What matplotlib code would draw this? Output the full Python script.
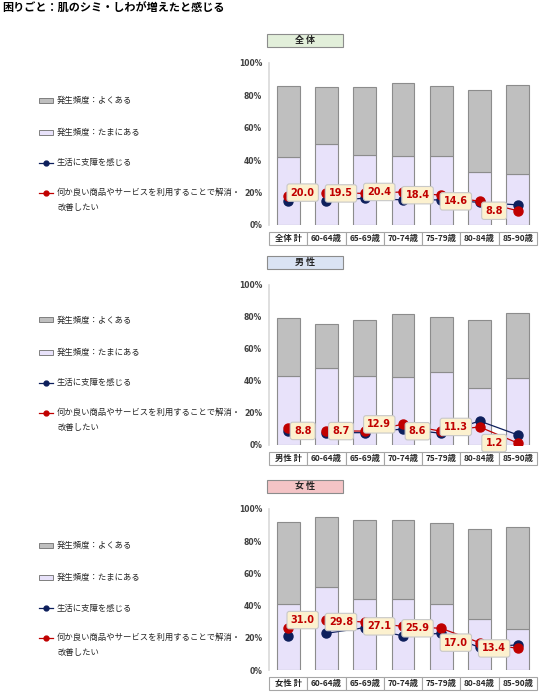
import matplotlib
matplotlib.use('Agg')
import matplotlib.pyplot as plt
from matplotlib.patches import Rectangle
from matplotlib.lines import Line2D
import matplotlib.transforms as mtransforms

plt.rcParams['font.family'] = ['Noto Sans CJK JP', 'DejaVu Sans']

# data
ages = ['60-64歳', '65-69歳', '70-74歳', '75-79歳', '80-84歳', '85-90歳']
panel_titles = ['全 体', '男 性', '女 性']
total_names = ['全体 計', '男性 計', '女性 計']

# 積み上げ上端（よくある + たまにある） / たまにある
all_total = [85.6, 85.2, 85.2, 87.6, 85.6, 83.1, 86.4]
all_sometimes = [41.9, 49.9, 43.3, 42.9, 42.5, 33.0, 31.3]
all_hinder = [15.1, 15.1, 16.5, 15.5, 15.5, 14.0, 12.4]
all_improve = [18.1, 20.0, 19.5, 20.4, 18.4, 14.6, 8.8]

male_total = [79.2, 75.8, 77.9, 81.9, 80.2, 78.3, 82.7]
male_sometimes = [43.3, 48.3, 42.9, 42.3, 45.8, 35.4, 42.1]
male_hinder = [8.8, 7.7, 7.7, 10.0, 7.3, 15.0, 6.3]
male_improve = [10.4, 8.8, 8.7, 12.9, 8.6, 11.3, 1.2]

female_total = [91.9, 94.8, 93.0, 93.4, 91.3, 87.8, 89.0]
female_sometimes = [41.3, 51.5, 44.0, 44.0, 40.7, 31.5, 25.3]
female_hinder = [21.2, 22.8, 26.3, 21.2, 22.8, 14.1, 15.6]
female_improve = [25.9, 31.0, 29.8, 27.1, 25.9, 17.0, 13.4]

legend_labels = ['発生頻度：よくある', '発生頻度：たまにある', '生活に支障を感じる',
                 '何か良い商品やサービスを利用することで解消・\n改善したい']

W, H = 540, 700
fig = plt.figure(figsize=(W / 100, H / 100), dpi=100)

c_often = '#bfbfbf'
c_some = '#e8e2fa'
c_edge = '#8c8c8c'
c_blue = '#0d1f5c'
c_red = '#c00000'
header_colors = ['#e2efda', '#dae3f3', '#f4c4c6']


def fx(x):
    return x / W


def fy(y):
    return 1 - y / H


fig.text(fx(2), fy(8), '困りごと：肌のシミ・しわが増えたと感じる', fontsize=8,
         fontweight='bold', va='center', ha='left')

panels = [
    (all_total, all_sometimes, all_hinder, all_improve, 225, 63),
    (male_total, male_sometimes, male_hinder, male_improve, 445, 285),
    (female_total, female_sometimes, female_hinder, female_improve, 670, 509),
]

for k, (tot, some, hind, impr, y0, y1) in enumerate(panels):
    ax = fig.add_axes([fx(269), fy(y0), fx(537) - fx(269), (y0 - y1) / H])
    cats = [total_names[k]] + ages
    x = list(range(len(cats)))
    often = [t - s for t, s in zip(tot, some)]

    ax.bar(x, some, width=0.6, color=c_some, edgecolor=c_edge, linewidth=0.8, zorder=2)
    ax.bar(x, often, width=0.6, bottom=some, color=c_often, edgecolor=c_edge,
           linewidth=0.8, zorder=2)

    # 計 is a separate point, age groups are joined
    ax.plot(x[1:], hind[1:], color=c_blue, lw=0.9, marker='o', ms=6.5, zorder=3)
    ax.plot(x[:1], hind[:1], color=c_blue, marker='o', ms=6.5, zorder=3)
    ax.plot(x[1:], impr[1:], color=c_red, lw=0.9, marker='o', ms=6.5, zorder=4)
    ax.plot(x[:1], impr[:1], color=c_red, marker='o', ms=6.5, zorder=4)

    for i in x[1:]:
        ax.text(i - 0.62, impr[i], f'{impr[i]:.1f}', color=c_red, fontsize=7,
                fontweight='bold', ha='center', va='center', zorder=5,
                family='DejaVu Sans',
                bbox=dict(boxstyle='round,pad=0.38,rounding_size=0.25',
                          fc='#fcf1cf', ec='#c8c8c8', lw=0.8))

    ax.set_xlim(-0.5, len(cats) - 0.5)
    ax.set_ylim(0, 100)
    ax.set_yticks([0, 20, 40, 60, 80, 100])
    ax.set_yticklabels([f'{v}%' for v in range(0, 101, 20)], fontsize=5.5,
                       fontweight='bold', color='#404040', family='DejaVu Sans')
    ax.tick_params(axis='y', length=0, pad=5)
    ax.set_xticks([])
    for s in ['top', 'right', 'bottom']:
        ax.spines[s].set_visible(False)
    ax.spines['left'].set_color('#d9d9d9')
    ax.spines['left'].set_linewidth(1.2)

    # category table under the plot
    trans = mtransforms.blended_transform_factory(ax.transData, fig.transFigure)
    for i, c in enumerate(cats):
        ax.add_patch(Rectangle((i - 0.5, fy(y0 + 20)), 1.0, 13 / H, transform=trans,
                               fc='white', ec='#a6a6a6', lw=0.8, clip_on=False))
        ax.text(i, fy(y0 + 13.5), c, transform=trans, ha='center', va='center',
                fontsize=6, fontweight='bold', color='#262626')

    # header box
    fig.patches.append(Rectangle((fx(267), fy(y1 - 16)), fx(343) - fx(267), 13 / H,
                                 transform=fig.transFigure, fc=header_colors[k],
                                 ec='#8c8c8c', lw=0.8))
    fig.text(fx(305), fy(y1 - 22.5), panel_titles[k], ha='center', va='center',
             fontsize=6.5, fontweight='bold', color='#262626')

    # legend on the left
    ly = [y0 - 125, y0 - 93, y0 - 62, y0 - 32]
    for j, col in enumerate([c_often, c_some]):
        fig.patches.append(Rectangle((fx(39), fy(ly[j] + 2.5)), fx(53) - fx(39), 5 / H,
                                     transform=fig.transFigure, fc=col, ec='#7f7f7f', lw=0.7))
    for j, col in zip([2, 3], [c_blue, c_red]):
        fig.lines.append(Line2D([fx(39), fx(53)], [fy(ly[j]), fy(ly[j])],
                                transform=fig.transFigure, color=col, lw=0.9))
        fig.lines.append(Line2D([fx(46)], [fy(ly[j])], transform=fig.transFigure,
                                color=col, marker='o', ms=3.5, lw=0))
    for j in range(3):
        fig.text(fx(57), fy(ly[j]), legend_labels[j], ha='left', va='center',
                 fontsize=6, color='#262626')
    fig.text(fx(57), fy(ly[3] - 5), legend_labels[3], ha='left', va='top',
             fontsize=6, color='#262626', linespacing=1.8)

fig.savefig('out.png', dpi=100)
